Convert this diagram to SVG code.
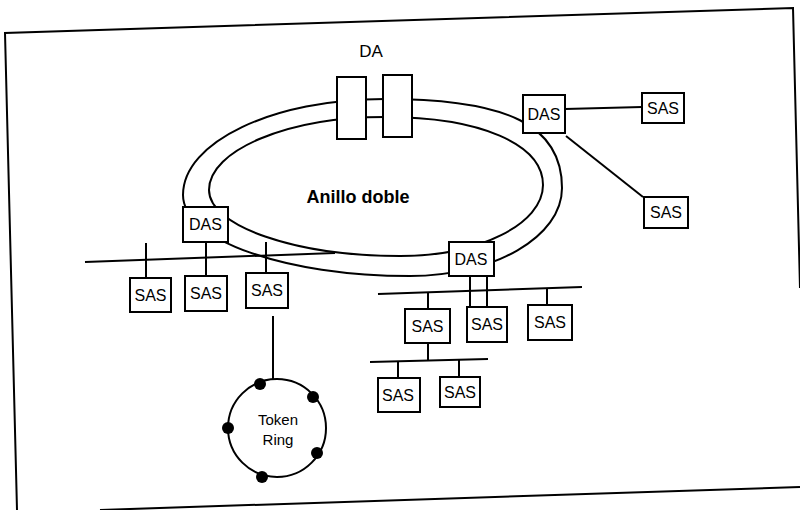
<svg xmlns="http://www.w3.org/2000/svg" width="800" height="510" viewBox="0 0 800 510">
<style>
.ln{stroke:#000;stroke-width:2;fill:none}
.box{fill:#fff;stroke:#000;stroke-width:2}
.t{font-family:"Liberation Sans",Arial,sans-serif;font-size:16px;text-anchor:middle;fill:#000}
.dot{fill:#000}
</style>
<rect width="800" height="510" fill="#fff"/>
<g id="frame" class="ln">
<polyline points="17,510 5,33 793,8 800,288"/>
<line x1="100" y1="510" x2="800" y2="487"/>
</g>
<g id="anillo-doble">
<path class="ln" d="M183,195 C183,142 273,99 385,99 C509,99 562,126 562,188 C562,237 494,276 410,276 C285,276 183,240 183,195 Z"/>
<path class="ln" d="M209,190 C209,150 288,117 385,117 C480,117 543,144 543,185 C543,224 479,256 400,256 C295,256 209,226 209,190 Z"/>
<text class="t" x="358" y="203" style="font-size:18px;font-weight:bold">Anillo doble</text>
</g>
<g id="connectors" class="ln">
<line x1="85" y1="262" x2="335" y2="253"/>
<line x1="146" y1="243" x2="146" y2="278"/>
<line x1="206" y1="242" x2="206" y2="276"/>
<line x1="266" y1="242" x2="266" y2="273"/>
<line x1="273" y1="316" x2="273" y2="380"/>
<line x1="565" y1="109" x2="642" y2="107"/>
<line x1="566" y1="136" x2="643" y2="197"/>
<line x1="378" y1="294" x2="582" y2="287"/>
<line x1="470" y1="276" x2="470" y2="307"/>
<line x1="487" y1="276" x2="487" y2="307"/>
<line x1="428" y1="293" x2="428" y2="309"/>
<line x1="547" y1="288" x2="547" y2="305"/>
<line x1="428" y1="343" x2="428" y2="361"/>
<line x1="370" y1="362" x2="488" y2="359"/>
<line x1="398" y1="361" x2="398" y2="378"/>
<line x1="459" y1="360" x2="459" y2="377"/>
</g>
<g id="da">
<rect class="box" x="337" y="77" width="29" height="62"/>
<rect class="box" x="383" y="75" width="29" height="62"/>
<text class="t" x="371" y="57" style="font-size:17px">DA</text>
</g>
<g id="das-left"><rect class="box" x="183" y="207" width="45" height="35"/><text class="t" x="205.5" y="230">DAS</text></g>
<g id="das-right"><rect class="box" x="449" y="242" width="45" height="34"/><text class="t" x="471" y="265">DAS</text></g>
<g id="das-top"><rect class="box" x="523" y="95" width="42" height="38"/><text class="t" x="544" y="120">DAS</text></g>
<g id="sas-1"><rect class="box" x="130" y="278" width="41" height="34"/><text class="t" x="150.5" y="301">SAS</text></g>
<g id="sas-2"><rect class="box" x="185" y="276" width="42" height="35"/><text class="t" x="206" y="299">SAS</text></g>
<g id="sas-3"><rect class="box" x="246" y="273" width="42" height="35"/><text class="t" x="267" y="296">SAS</text></g>
<g id="sas-top"><rect class="box" x="642" y="93" width="42" height="30"/><text class="t" x="663" y="114">SAS</text></g>
<g id="sas-diag"><rect class="box" x="644" y="197" width="44" height="31"/><text class="t" x="666" y="218">SAS</text></g>
<g id="sas-a"><rect class="box" x="405" y="309" width="45" height="34"/><text class="t" x="427.5" y="332">SAS</text></g>
<g id="sas-b"><rect class="box" x="467" y="307" width="40" height="35"/><text class="t" x="487" y="330">SAS</text></g>
<g id="sas-c"><rect class="box" x="528" y="305" width="44" height="35"/><text class="t" x="550" y="328">SAS</text></g>
<g id="sas-d"><rect class="box" x="378" y="378" width="42" height="34"/><text class="t" x="398" y="401">SAS</text></g>
<g id="sas-e"><rect class="box" x="440" y="377" width="40" height="30"/><text class="t" x="460" y="398">SAS</text></g>
<g id="token-ring">
<circle class="ln" cx="277" cy="428" r="49"/>
<circle class="dot" cx="260" cy="384" r="6"/>
<circle class="dot" cx="313" cy="397" r="6"/>
<circle class="dot" cx="228" cy="428" r="6"/>
<circle class="dot" cx="317" cy="453" r="6"/>
<circle class="dot" cx="262" cy="477" r="6"/>
<text class="t" x="278" y="425" style="font-size:15px">Token</text>
<text class="t" x="278" y="445" style="font-size:15px">Ring</text>
</g>
</svg>
